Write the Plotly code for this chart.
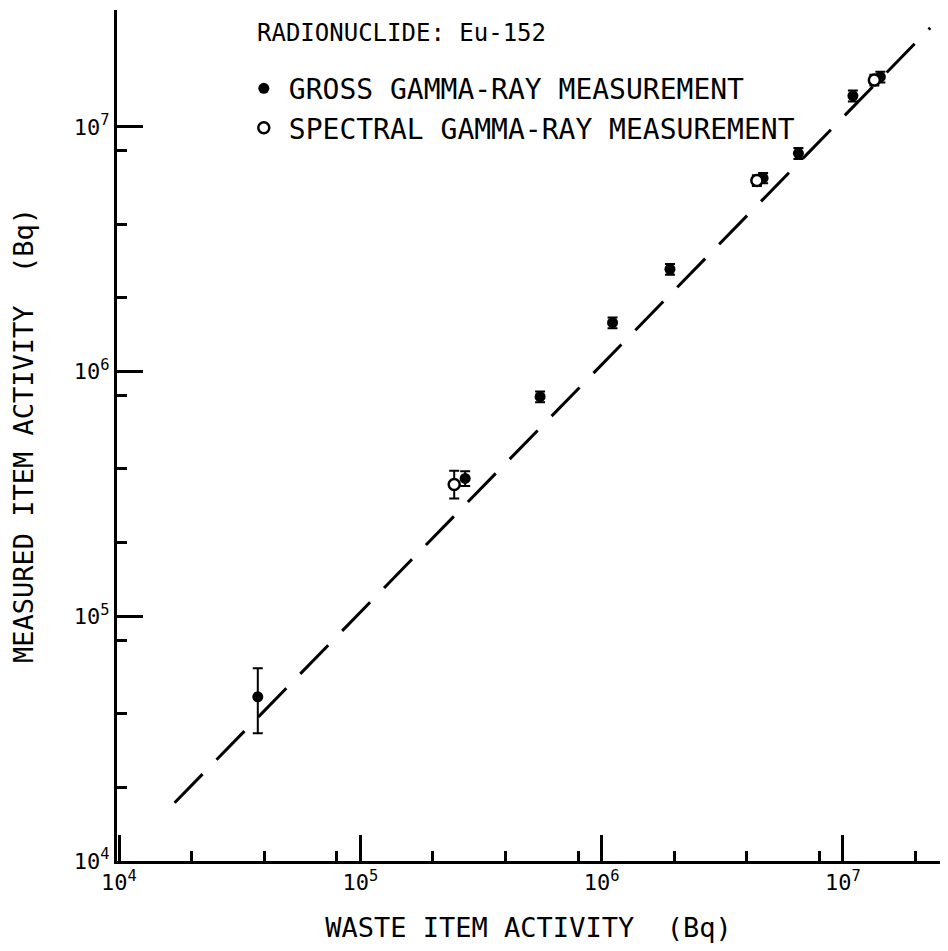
import plotly.graph_objects as go

# ---- data (Bq) ----
gross_x = [3.76e4, 2.72e5, 5.56e5, 1.11e6, 1.92e6, 4.67e6, 6.54e6, 1.10e7, 1.43e7]
gross_y = [4.69e4, 3.66e5, 7.90e5, 1.585e6, 2.62e6, 6.18e6, 7.80e6, 1.34e7, 1.60e7]
gross_err_plus = [1.45e4, 2.6e4, 4.0e4, 8.0e4, 1.3e5, 3.0e5, 4.0e5, 7.0e5, 8.0e5]
gross_err_minus = [1.36e4, 2.5e4, 4.0e4, 8.0e4, 1.3e5, 3.0e5, 4.0e5, 7.0e5, 8.0e5]

spectral_x = [2.45e5, 4.40e6, 1.35e7]
spectral_y = [3.46e5, 6.04e6, 1.555e7]
spectral_err_plus = [4.7e4, 3.0e5, 8.0e5]
spectral_err_minus = [4.3e4, 3.0e5, 8.0e5]

line_x = [1.7e4, 2.3e7]
line_y = [1.73e4, 2.54e7]

major_ticks = [1e4, 1e5, 1e6, 1e7]
major_text = ["10<sup>4</sup>", "10<sup>5</sup>", "10<sup>6</sup>", "10<sup>7</sup>"]
minor_x = [2e4, 4e4, 8e4, 2e5, 4e5, 8e5, 2e6, 4e6, 8e6, 2e7]
minor_y = [2e4, 4e4, 8e4, 2e5, 4e5, 8e5, 2e6, 4e6, 8e6]

FONT = "DejaVu Sans Mono, Liberation Mono, monospace"

fig = go.Figure()

fig.add_trace(go.Scatter(
    x=line_x, y=line_y, mode="lines",
    line=dict(color="black", width=3, dash="40px,20px"),
    showlegend=False, hoverinfo="skip"))

fig.add_trace(go.Scatter(
    x=gross_x, y=gross_y, mode="markers",
    name="GROSS GAMMA-RAY MEASUREMENT", legendgroup="g",
    marker=dict(symbol="circle", size=11, color="black"),
    error_y=dict(type="data", array=gross_err_plus, arrayminus=gross_err_minus,
                 color="black", thickness=2, width=5)))

fig.add_trace(go.Scatter(
    x=spectral_x, y=spectral_y, mode="markers",
    name="SPECTRAL GAMMA-RAY MEASUREMENT", legendgroup="s",
    marker=dict(symbol="circle", size=11, color="white",
                line=dict(color="black", width=2.5)),
    error_y=dict(type="data", array=spectral_err_plus, arrayminus=spectral_err_minus,
                 color="black", thickness=2, width=5)))

axis_common = dict(
    type="log", showline=True, linecolor="black", linewidth=3,
    ticks="inside", ticklen=26, tickwidth=2.5, tickcolor="black",
    tickvals=major_ticks, ticktext=major_text,
    tickfont=dict(family=FONT, size=22, color="black"),
    showgrid=False, zeroline=False, mirror=False,
)

fig.update_xaxes(
    **axis_common, range=[3.9917, 7.4024],
    minor=dict(tickvals=minor_x, ticklen=10, tickwidth=2.5, ticks="inside",
               tickcolor="black", showgrid=False),
    title=dict(text="WASTE ITEM ACTIVITY\u00a0 (Bq)",
               font=dict(family=FONT, size=27, color="black"), standoff=28))

fig.update_yaxes(
    **axis_common, range=[4.0, 7.4778],
    minor=dict(tickvals=minor_y, ticklen=10, tickwidth=2.5, ticks="inside",
               tickcolor="black", showgrid=False),
    title=dict(text="MEASURED ITEM ACTIVITY\u00a0 (Bq)",
               font=dict(family=FONT, size=27, color="black"), standoff=36))

fig.add_annotation(
    text="RADIONUCLIDE: Eu-152", xref="paper", yref="paper",
    x=0.168, y=0.973, xanchor="left", yanchor="middle", showarrow=False,
    font=dict(family=FONT, size=24, color="black"))

fig.update_layout(
    width=932, height=935,
    margin=dict(l=109, r=0, t=2, b=82, autoexpand=False),
    plot_bgcolor="white", paper_bgcolor="white",
    font=dict(family=FONT, size=27, color="black"),
    legend=dict(x=0.148, y=0.937, xanchor="left", yanchor="top",
                bgcolor="rgba(0,0,0,0)", borderwidth=0,
                traceorder="grouped", tracegroupgap=0, itemwidth=40,
                font=dict(family=FONT, size=28, color="black")),
)

fig.write_html("out.html")
